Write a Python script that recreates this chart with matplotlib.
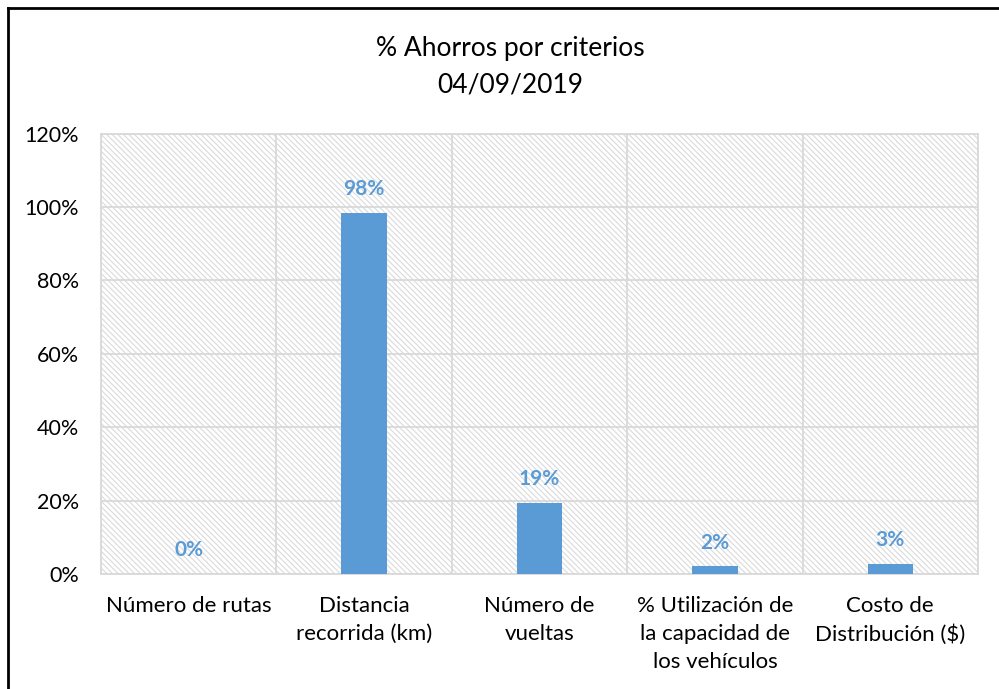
import matplotlib
matplotlib.use("Agg")
import matplotlib.pyplot as plt
from matplotlib.patches import Rectangle
from matplotlib.lines import Line2D
from matplotlib.ticker import FuncFormatter

categories = ["Número de rutas", "Distancia\nrecorrida (km)", "Número de\nvueltas",
              "% Utilización de\nla capacidad de\nlos vehículos", "Costo de\nDistribución ($)"]
values = [0.0, 0.984, 0.194, 0.021, 0.028]
yticks = [0, 0.2, 0.4, 0.6, 0.8, 1.0, 1.2]
title = "% Ahorros por criterios\n04/09/2019"

plt.rcParams['font.family'] = ['Lato', 'DejaVu Sans']
plt.rcParams['hatch.linewidth'] = 0.8

fig = plt.figure(figsize=(9.99, 6.89), dpi=100)
ax = fig.add_axes([0.101, 0.167, 0.878, 0.639])

bar_color = "#5B9BD5"
grid_color = "#D9D9D9"

ax.set_xlim(-0.5, len(categories) - 0.5)
ax.set_ylim(0, 1.2)

# hatched background
bg = Rectangle((0, 0), 1, 1, transform=ax.transAxes, facecolor="white",
               edgecolor="#DADADA", hatch="\\" * 6, linewidth=0, zorder=0)
ax.add_patch(bg)

# grid
for y in yticks:
    ax.axhline(y, color=grid_color, lw=1.3, zorder=1)
for i in range(len(categories) + 1):
    ax.axvline(i - 0.5, color=grid_color, lw=1.3, zorder=1)

x = list(range(len(categories)))
ax.bar(x, values, width=0.26, color=bar_color, zorder=3)

for xi, v in zip(x, values):
    ax.text(xi, v + 0.037, f"{v:.0%}", ha="center", va="bottom",
            color=bar_color, fontsize=15, fontweight="bold", zorder=4)

ax.set_yticks(yticks)
ax.yaxis.set_major_formatter(FuncFormatter(lambda v, p: f"{v*100:.0f}%"))
ax.set_xticks(x)
ax.set_xticklabels(categories, fontsize=16, linespacing=1.5)
ax.tick_params(axis='y', labelsize=15.5, length=0, pad=16)
ax.tick_params(axis='x', length=0, pad=16)
for s in ax.spines.values():
    s.set_color(grid_color)
    s.set_linewidth(1.3)

fig.text(0.511, 0.903, title, ha="center", va="center", fontsize=19, linespacing=1.6)

# outer chart border (left and top only visible)
fig.add_artist(Line2D([0.0085, 0.0085], [0, 0.988], transform=fig.transFigure, color="black", lw=2))
fig.add_artist(Line2D([0.0085, 1.0], [0.988, 0.988], transform=fig.transFigure, color="black", lw=2))

fig.savefig("out.png", dpi=100)
